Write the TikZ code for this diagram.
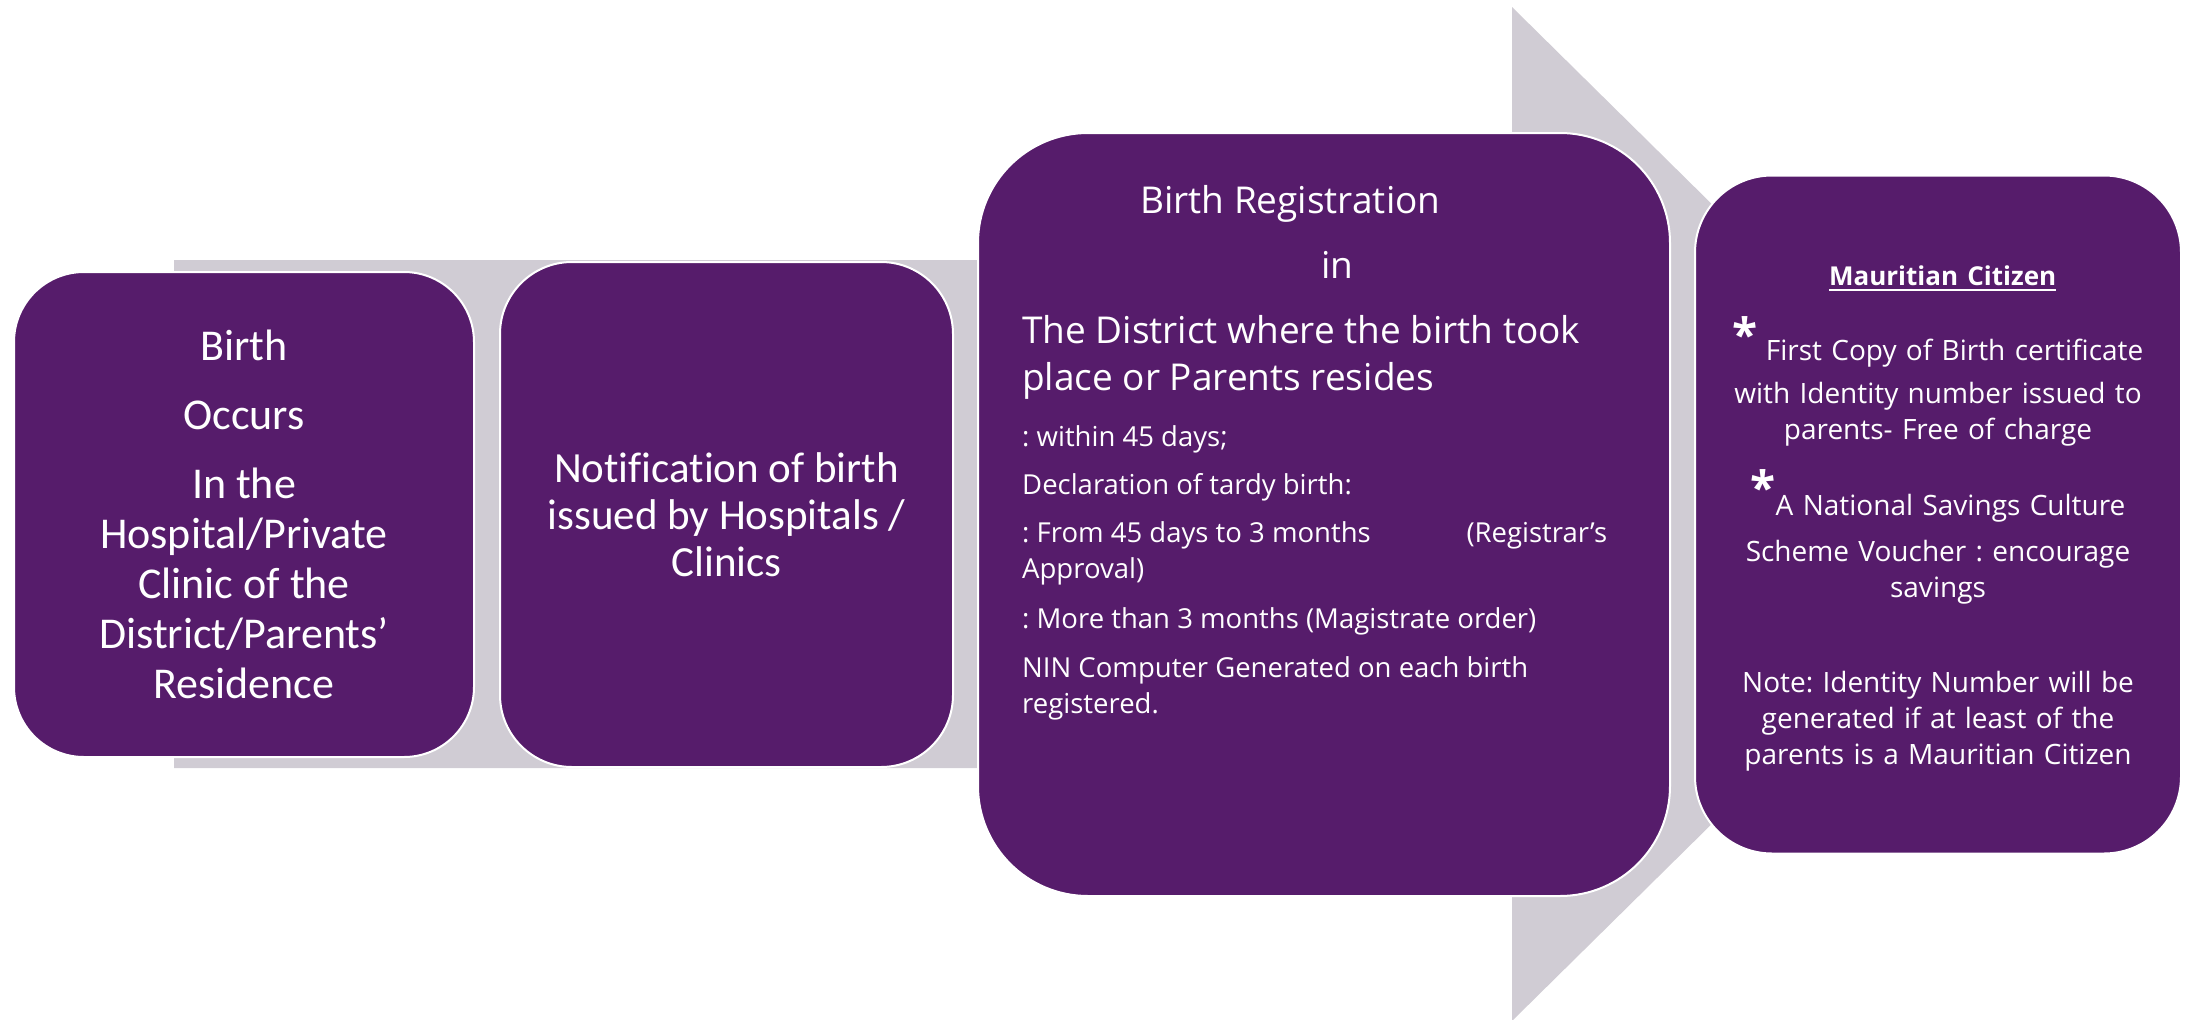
\documentclass[tikz,border=0pt]{standalone}
\usepackage{fontspec}
\setmainfont{Carlito}[Ligatures=NoCommon]
\newfontfamily\opensans{Open Sans}[Ligatures=NoCommon]
\usetikzlibrary{positioning,calc}
\definecolor{boxpurple}{HTML}{561C6B}
\definecolor{arrowgray}{HTML}{D0CCD4}
\setlength{\parindent}{0pt}
\setlength{\parskip}{0pt}
\frenchspacing
\newsavebox{\ulbox}
\newcommand{\ulword}[1]{\sbox{\ulbox}{#1}\rlap{\rule[-5pt]{\wd\ulbox}{1.6pt}}\usebox{\ulbox}}
\newcommand{\astmark}[1]{{\bfseries\fontsize{46}{46}\selectfont\raisebox{#1}{*}}}
\tikzset{
 every node/.style={execute at begin node={\lineskiplimit=-100pt\relax}},
 stagebox/.style={draw=white, line width=2pt, fill=boxpurple, text=white, inner sep=0pt, outer sep=0pt, rounded corners=#1},
 bigtext/.style={font=\fontsize{44}{50}\selectfont, align=center},
 regtext/.style={text=white, inner sep=0pt, text width=585pt, align=flush left, font=\opensans}
}

\begin{document}
\begin{tikzpicture}[x=1pt,y=-1pt]
\useasboundingbox (0,0) rectangle (2188,1020);
\fill[arrowgray] (174,260) -- (1512,260) -- (1512,7) -- (2026,514) -- (1512,1021) -- (1512,768) -- (174,768) -- cycle;

\node[stagebox=70pt, bigtext, minimum width=460pt, minimum height=485pt] (birth) at (244,514.5)
 {Birth\\[19pt]Occurs\\[19pt]In the\\Hospital/Private\\Clinic of the\\District/Parents’\\Residence};
\node[stagebox=72pt, bigtext, font=\fontsize{43}{47}\selectfont, minimum width=453pt, minimum height=505pt, right=26pt of birth] (notify)
 {Notification of birth\\issued by Hospitals /\\Clinics};
\node[stagebox=110pt, minimum width=692pt, minimum height=763pt, right=25pt of notify] (register) {};
\node[stagebox=77pt, minimum width=486pt, minimum height=678pt, right=25pt of register, text width=460pt, align=center, font=\opensans\fontsize{28}{36}\selectfont] (citizen) {%
\vspace*{15pt}
{\bfseries\fontsize{26}{36}\selectfont\raisebox{-8pt}[\height][\depth]{\ulword{Mauritian Citizen}}\par}
\vspace{32pt}
\astmark{9pt}\hspace{8pt}First Copy of Birth certificate\par
\vspace{7pt}with Identity number issued to\par
parents- Free of charge\par
\vspace{40pt}
\astmark{11pt}A National Savings Culture\par
\vspace{10pt}Scheme Voucher : encourage\par
savings\par
\vspace{59pt}
Note: Identity Number will be\par
generated if at least of the\par
parents is a Mauritian Citizen\par};

\node[regtext, anchor=north west] (regnotes) at ($(register.north west)+(44,52)$) {%
\fontsize{37}{47}\selectfont\hspace*{118pt}Birth Registration\par
\fontsize{37}{65}\selectfont\hspace*{299pt}in\par
\vspace{19pt}\fontsize{37}{46.5}\selectfont The District where the birth took\par
place or Parents resides\par
\vspace{20pt}\fontsize{27.5}{36}\selectfont : within 45 days;\par
\vspace{12pt}Declaration of tardy birth:\par
\vspace{12pt}: From 45 days to 3 months\hfill(Registrar’s\par
Approval)\par
\vspace{14pt}: More than 3 months (Magistrate order)\par
\vspace{13pt}\fontsize{27.5}{36}\selectfont NIN Computer Generated on each birth\par
registered.\par};
\end{tikzpicture}
\end{document}
